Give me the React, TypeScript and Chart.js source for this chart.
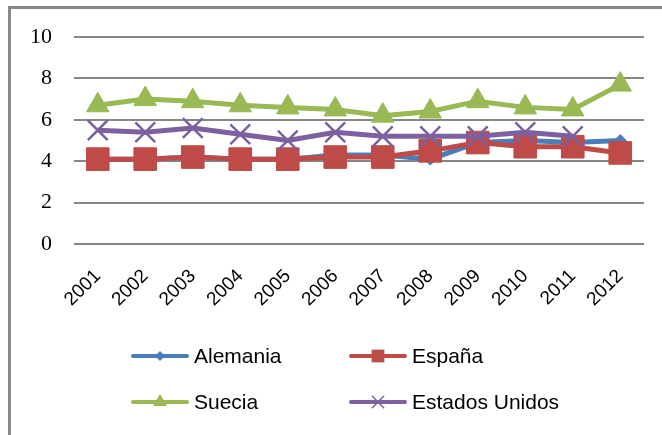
import React, { useEffect, useRef } from 'react';
import { Chart, registerables } from 'chart.js';

Chart.register(...registerables);

const years = ['2001', '2002', '2003', '2004', '2005', '2006', '2007', '2008', '2009', '2010', '2011', '2012'];
const alemania = [4.1, 4.1, 4.2, 4.1, 4.1, 4.3, 4.3, 4.1, 4.9, 5.0, 4.9, 5.0];
const espana = [4.1, 4.1, 4.2, 4.1, 4.1, 4.2, 4.2, 4.5, 4.9, 4.7, 4.7, 4.4];
const suecia = [6.7, 7.0, 6.9, 6.7, 6.6, 6.5, 6.2, 6.4, 6.9, 6.6, 6.5, 7.7];
const estadosUnidos = [5.5, 5.4, 5.6, 5.3, 5.0, 5.4, 5.2, 5.2, 5.2, 5.4, 5.2, null];
const seriesNames = ['Alemania', 'España', 'Suecia', 'Estados Unidos'];
const yMin = 0;
const yMax = 10;
const yStep = 2;

const COLORS = ['#4A7EBB', '#BE4B48', '#98B954', '#7D60A0'];
const STYLES = ['rectRot', 'rect', 'triangle', 'crossRot'];

function drawMarker(ctx: CanvasRenderingContext2D, style: string, x: number, y: number, r: number, color: string) {
  ctx.save();
  ctx.fillStyle = color;
  ctx.strokeStyle = color;
  ctx.beginPath();
  if (style === 'rectRot') {
    ctx.moveTo(x - r, y);
    ctx.lineTo(x, y - r);
    ctx.lineTo(x + r, y);
    ctx.lineTo(x, y + r);
    ctx.closePath();
    ctx.fill();
  } else if (style === 'rect') {
    const s = r * Math.SQRT1_2;
    ctx.rect(x - s, y - s, 2 * s, 2 * s);
    ctx.fill();
  } else if (style === 'triangle') {
    const a = (2 * Math.PI) / 3;
    ctx.moveTo(x, y - r);
    ctx.lineTo(x + Math.sin(a) * r, y - Math.cos(a) * r);
    ctx.lineTo(x - Math.sin(a) * r, y - Math.cos(a) * r);
    ctx.closePath();
    ctx.fill();
  } else {
    const o = r * Math.SQRT1_2;
    ctx.lineWidth = 1.5;
    ctx.moveTo(x - o, y - o);
    ctx.lineTo(x + o, y + o);
    ctx.moveTo(x - o, y + o);
    ctx.lineTo(x + o, y - o);
    ctx.stroke();
  }
  ctx.restore();
}

const xLabelPlugin = {
  id: 'xLabels',
  afterDraw(chart: any) {
    const ctx: CanvasRenderingContext2D = chart.ctx;
    const xs = chart.scales.x;
    const base = chart.chartArea.bottom + 29;
    ctx.save();
    ctx.fillStyle = '#000';
    ctx.font = '19px "Liberation Sans"';
    ctx.textAlign = 'right';
    ctx.textBaseline = 'middle';
    years.forEach((lab, i) => {
      const x = xs.getPixelForValue(i);
      ctx.save();
      ctx.translate(x, base);
      ctx.rotate(-Math.PI / 4);
      ctx.fillText(lab, 0, 0);
      ctx.restore();
    });
    ctx.restore();
  },
};

const legendPlugin = {
  id: 'customLegend',
  afterDraw(chart: any) {
    const ctx: CanvasRenderingContext2D = chart.ctx;
    const cols = [131, 349];
    const rows = [356, 402];
    const legendRadius = [5, 9, 8, 8];
    chart.data.datasets.forEach((ds: any, i: number) => {
      const x0 = cols[i % 2];
      const y = rows[Math.floor(i / 2)];
      ctx.save();
      ctx.strokeStyle = ds.borderColor;
      ctx.lineWidth = 4;
      ctx.lineCap = 'round';
      ctx.beginPath();
      ctx.moveTo(x0 + 2, y);
      ctx.lineTo(x0 + 56, y);
      ctx.stroke();
      drawMarker(ctx, STYLES[i], x0 + 29, y, legendRadius[i], ds.borderColor);
      ctx.fillStyle = '#000';
      ctx.font = '21px "Liberation Sans"';
      ctx.textAlign = 'left';
      ctx.textBaseline = 'middle';
      ctx.fillText(ds.label, x0 + 63, y + 1);
      ctx.restore();
    });
  },
};

export default function App() {
  const ref = useRef<HTMLCanvasElement | null>(null);

  useEffect(() => {
    if (!ref.current) return;
    const values = [alemania, espana, suecia, estadosUnidos];
    const radii = [6, 16, 13, 14];
    const borderW = [1, 1, 1, 2.5];
    const orders = [4, 3, 2, 1];
    const chart = new Chart(ref.current, {
      type: 'line',
      data: {
        labels: years,
        datasets: values.map((v, i) => ({
          label: seriesNames[i],
          data: v,
          borderColor: COLORS[i],
          backgroundColor: COLORS[i],
          pointBackgroundColor: COLORS[i],
          pointBorderColor: COLORS[i],
          borderWidth: 5,
          pointStyle: STYLES[i] as any,
          pointRadius: radii[i],
          pointBorderWidth: borderW[i],
          tension: 0,
          order: orders[i],
          spanGaps: false,
        })),
      },
      options: {
        animation: false,
        responsive: false,
        maintainAspectRatio: false,
        layout: { padding: { left: 0, top: 37, right: 18, bottom: 0 } },
        plugins: {
          legend: { display: false },
          tooltip: { enabled: false },
          title: { display: false },
        },
        scales: {
          x: {
            type: 'category',
            offset: true,
            grid: { display: false },
            border: { display: false },
            ticks: { display: false },
            afterFit: (s: any) => {
              s.height = 191;
            },
          },
          y: {
            min: yMin,
            max: yMax,
            ticks: {
              stepSize: yStep,
              padding: 22,
              color: '#000',
              font: { family: '"Liberation Serif"', size: 22 },
            },
            grid: { color: '#868686', lineWidth: 2, drawTicks: false },
            border: { display: false },
            afterFit: (s: any) => {
              s.width = 74;
            },
          },
        },
      },
      plugins: [xLabelPlugin, legendPlugin],
    });
    return () => chart.destroy();
  }, []);

  return (
    <div
      style={{
        position: 'fixed',
        left: 0,
        top: 0,
        width: 662,
        height: 435,
        overflow: 'hidden',
        background: '#fff',
      }}
    >
      <div
        style={{
          position: 'absolute',
          left: 8,
          top: 6,
          width: 720,
          height: 520,
          border: '3px solid #888',
          boxSizing: 'border-box',
        }}
      />
      <canvas
        ref={ref}
        width={662}
        height={435}
        style={{ position: 'absolute', left: 0, top: 0, width: 662, height: 435 }}
      />
    </div>
  );
}
